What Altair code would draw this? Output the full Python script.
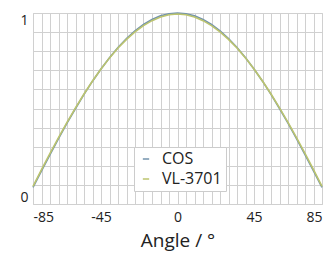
import altair as alt
import pandas as pd

angles = [-85, -80, -75, -70, -65, -60, -55, -50, -45, -40, -35, -30, -25, -20, -15, -10, -5,
          0, 5, 10, 15, 20, 25, 30, 35, 40, 45, 50, 55, 60, 65, 70, 75, 80, 85]
cos_vals = [0.087, 0.174, 0.259, 0.342, 0.423, 0.500, 0.574, 0.643, 0.707, 0.766, 0.819, 0.866,
            0.906, 0.940, 0.966, 0.985, 0.996, 1.000, 0.996, 0.985, 0.966, 0.940, 0.906, 0.866,
            0.819, 0.766, 0.707, 0.643, 0.574, 0.500, 0.423, 0.342, 0.259, 0.174, 0.087]
vl_vals = [0.092, 0.180, 0.265, 0.347, 0.427, 0.503, 0.576, 0.644, 0.707, 0.765, 0.817, 0.862,
           0.901, 0.934, 0.960, 0.979, 0.991, 0.995, 0.991, 0.979, 0.960, 0.934, 0.901, 0.862,
           0.817, 0.765, 0.707, 0.644, 0.576, 0.503, 0.427, 0.347, 0.265, 0.180, 0.092]
series = ["COS", "VL-3701"]
colors = ["#7393ad", "#bcc46e"]
x_labels = [-85, -45, 0, 45, 85]
y_labels = [0, 1]

rows = []
for a, c, v in zip(angles, cos_vals, vl_vals):
    rows.append({"angle": a, "value": c, "series": series[0]})
    rows.append({"angle": a, "value": v, "series": series[1]})
df = pd.DataFrame(rows)

xgrid = list(range(-85, 90, 5))
ygrid = [i / 10 for i in range(11)]
xl = " || ".join(f"datum.value == {v}" for v in x_labels)
yl = " || ".join(f"datum.value == {v}" for v in y_labels)

chart = alt.Chart(df).mark_line(strokeWidth=1.6).encode(
    x=alt.X("angle:Q", title="Angle / °",
            scale=alt.Scale(domain=[-85, 85], nice=False, zero=False),
            axis=alt.Axis(values=xgrid, labelExpr=f"({xl}) ? toString(datum.value) : ''",
                          ticks=False, domain=False, gridColor="#d0d0d0", gridWidth=1,
                          labelFont="Open Sans", labelFontSize=14, labelColor="#222",
                          labelPadding=6, titleFont="Open Sans", titleFontSize=19,
                          titleFontWeight="normal", titleColor="#222", titlePadding=7,
                          labelOverlap=False)),
    y=alt.Y("value:Q", title=None,
            scale=alt.Scale(domain=[0, 1], nice=False),
            axis=alt.Axis(values=ygrid, labelExpr=f"({yl}) ? toString(datum.value) : ''",
                          ticks=False, domain=False, gridColor="#d0d0d0", gridWidth=1,
                          labelFont="Open Sans", labelFontSize=14, labelColor="#222",
                          labelPadding=5, labelOverlap=False, labelFlush=True)),
    color=alt.Color("series:N", scale=alt.Scale(domain=series, range=colors),
                    legend=alt.Legend(title=None, orient="none", legendX=101, legendY=134,
                                      symbolType="stroke", symbolSize=40, symbolStrokeWidth=1.5,
                                      labelFont="Open Sans", labelFontSize=16, labelColor="#222",
                                      fillColor="white", strokeColor="#cccccc", padding=4,
                                      rowPadding=4, labelOffset=8)),
).properties(
    width=289, height=191,
    autosize=alt.AutoSizeParams(type="none"),
    padding={"left": 25, "top": 5, "right": 6, "bottom": 60},
).configure_view(stroke="#d0d0d0", strokeWidth=1)

chart.save("out.html", embed_options={"renderer": "svg", "actions": False})
